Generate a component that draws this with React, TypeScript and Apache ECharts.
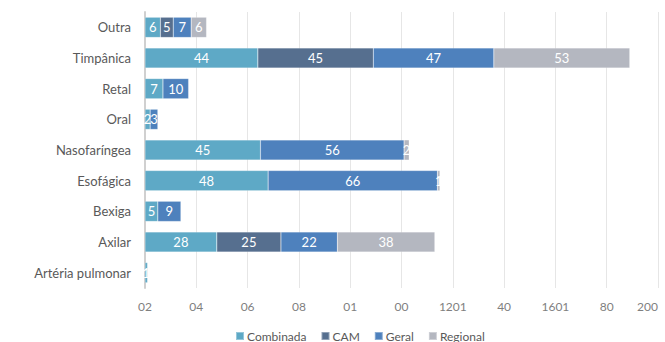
import React, { useEffect, useRef } from "react";
import * as echarts from "echarts";

const categories = [
  "Artéria pulmonar",
  "Axilar",
  "Bexiga",
  "Esofágica",
  "Nasofaríngea",
  "Oral",
  "Retal",
  "Timpânica",
  "Outra",
];

const combinada = [1, 28, 5, 48, 45, 2, 7, 44, 6];
const cam = [null, 25, null, null, null, null, null, 45, 5];
const geral = [null, 22, 9, 66, 56, 3, 10, 47, 7];
const regional = [null, 38, null, 1, 2, null, null, 53, 6];

const tickLabels = ["02", "04", "06", "08", "01", "00", "1201", "40", "1601", "80", "200"];

const seriesNames = ["Combinada", "CAM", "Geral", "Regional"];
const colors = ["#5ea9c6", "#566f8f", "#4e81bd", "#b4b7c0"];

const FONT = "Lato";

export default function App() {
  const ref = useRef<HTMLDivElement>(null);
  useEffect(() => {
    if (!ref.current) return;
    const chart = echarts.init(ref.current, null, { renderer: "svg" });
    const dataSets = [combinada, cam, geral, regional];
    chart.setOption({
      animation: false,
      textStyle: { fontFamily: FONT },
      grid: {
        left: 145,
        right: 7,
        top: 12,
        bottom: 54,
        containLabel: false,
        outerBoundsMode: "none",
      },
      legend: {
        data: seriesNames,
        left: 230,
        top: 325,
        itemWidth: 8,
        itemHeight: 8,
        itemGap: 14,
        icon: "rect",
        textStyle: { color: "#595959", fontSize: 12, fontFamily: FONT, padding: [0, 0, 0, -2] },
      },
      xAxis: {
        type: "value",
        min: 0,
        max: 200,
        interval: 20,
        axisLine: { show: false },
        axisTick: { show: false },
        splitLine: { show: true, lineStyle: { color: "#e6e6e6", width: 1 } },
        axisLabel: {
          color: "#7f7f7f",
          fontSize: 12,
          fontFamily: FONT,
          margin: 12,
          alignMaxLabel: "right",
          formatter: (v: number) => tickLabels[Math.round(v / 20)] ?? "",
        },
      },
      yAxis: {
        type: "category",
        data: categories,
        axisLine: { show: true, lineStyle: { color: "#d0d0d0", width: 2 } },
        axisTick: { show: false },
        axisLabel: { color: "#595959", fontSize: 13, fontFamily: FONT, margin: 14 },
      },
      series: dataSets.map((d, i) => ({
        name: seriesNames[i],
        type: "bar",
        stack: "total",
        data: d,
        barCategoryGap: "34%",
        itemStyle: { color: colors[i], borderColor: "rgba(255,255,255,0.35)", borderWidth: 0.5 },
        label: {
          show: true,
          position: "inside",
          color: "#ffffff",
          fontSize: 13,
          fontFamily: FONT,
          formatter: (p: any) => (p.value == null ? "" : String(p.value)),
        },
      })),
    });
    return () => chart.dispose();
  }, []);
  return (
    <div
      ref={ref}
      style={{ position: "fixed", left: 0, top: 0, width: 665, height: 342, background: "#ffffff" }}
    />
  );
}
